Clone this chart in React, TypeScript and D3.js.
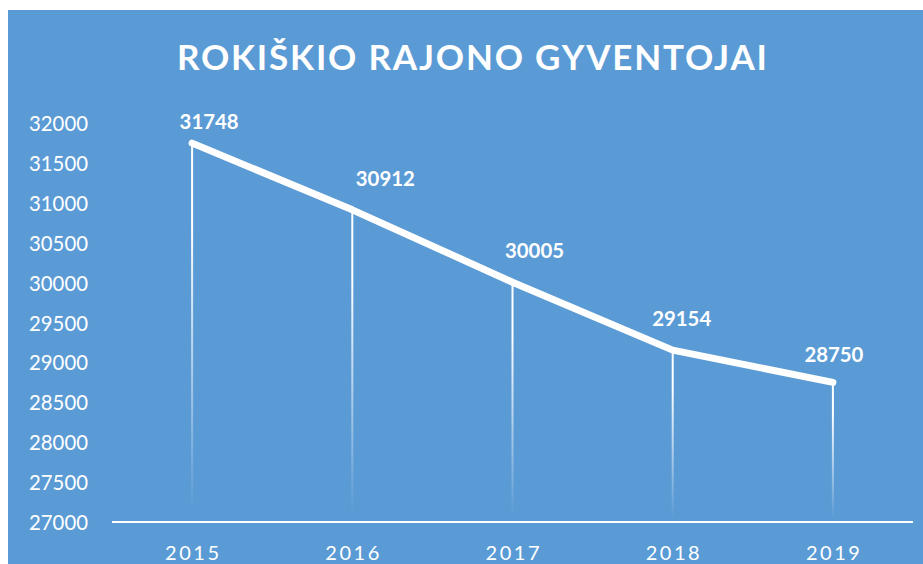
import React from "react";
import * as d3 from "d3";

const years = ["2015", "2016", "2017", "2018", "2019"];
const population = [31748, 30912, 30005, 29154, 28750];
const yTicks = [27000, 27500, 28000, 28500, 29000, 29500, 30000, 30500, 31000, 31500, 32000];
const title = "ROKIŠKIO RAJONO GYVENTOJAI";

// label placement offsets (layout only)
const labelDx = [17, 33, 22, 9, 1];
const labelDy = [-14, -24, -24, -24, -20];

const W = 923;
const H = 564;
const BG = "#5B9BD5";

export default function App() {
  const x = d3.scalePoint<string>().domain(years).range([112, 913]).padding(0.5);
  const y = d3.scaleLinear().domain([27000, 32000]).range([522, 123]);
  const pts = years.map((yr, i) => [x(yr) as number, y(population[i])] as [number, number]);
  const line = d3.line<[number, number]>()(pts) || "";
  const font = "Lato, 'Open Sans', sans-serif";

  return (
    <svg
      width={W}
      height={H}
      style={{ position: "absolute", left: 0, top: 0 }}
    >
      <defs>
        <linearGradient id="drop" x1="0" y1="0" x2="0" y2="1">
          <stop offset="0" stopColor="#fff" stopOpacity={1} />
          <stop offset="0.22" stopColor="#fff" stopOpacity={1} />
          <stop offset="0.97" stopColor="#fff" stopOpacity={0} />
        </linearGradient>
      </defs>
      <rect x={0} y={0} width={W} height={H} fill="#fff" />
      <rect x={8} y={10} width={W - 8} height={H - 10} fill={BG} />
      <text
        x={472}
        y={70}
        textAnchor="middle"
        fill="#fff"
        fontFamily={font}
        fontWeight={700}
        fontSize={35}
        textLength={590}
        lengthAdjust="spacing"
      >
        {title}
      </text>
      {yTicks.map((t) => (
        <text
          key={t}
          x={88}
          y={y(t) + 8}
          textAnchor="end"
          fill="#fff"
          fontFamily={font}
          fontSize={22}
          textLength={59}
          lengthAdjust="spacingAndGlyphs"
        >
          {t}
        </text>
      ))}
      {pts.map(([px, py], i) => (
        <rect
          key={"d" + i}
          x={px - 1}
          y={py}
          width={2}
          height={y(27000) - py}
          fill="url(#drop)"
        />
      ))}
      <line x1={112} x2={913} y1={y(27000)} y2={y(27000)} stroke="#fff" strokeWidth={2} />
      <path
        d={line}
        fill="none"
        stroke="#fff"
        strokeWidth={7}
        strokeLinecap="round"
        strokeLinejoin="round"
      />
      {pts.map(([px, py], i) => (
        <text
          key={"l" + i}
          x={px + labelDx[i]}
          y={py + labelDy[i]}
          textAnchor="middle"
          fill="#fff"
          fontFamily={font}
          fontWeight={700}
          fontSize={21}
          textLength={59}
          lengthAdjust="spacingAndGlyphs"
        >
          {population[i]}
        </text>
      ))}
      {years.map((yr) => (
        <text
          key={yr}
          x={x(yr) as number}
          y={560}
          textAnchor="middle"
          fill="#fff"
          fontFamily={font}
          fontSize={20}
          textLength={54}
          lengthAdjust="spacing"
        >
          {yr}
        </text>
      ))}
    </svg>
  );
}
